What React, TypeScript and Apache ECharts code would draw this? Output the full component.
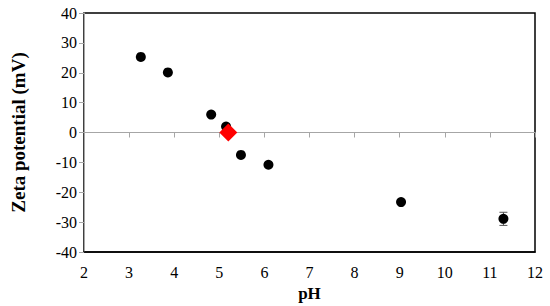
import React, { useEffect, useRef } from "react";
import * as echarts from "echarts";

const phValues = [3.26, 3.86, 4.82, 5.15, 5.48, 6.09, 9.03, 11.3];
const zetaValues = [25.3, 20.1, 6.0, 2.0, -7.5, -10.8, -23.3, -28.9];
const zetaErrors = [0, 0, 0, 0, 0, 0, 0, 2.2];
const iepPoint = [[5.2, 0]];

export default function App() {
  const ref = useRef<HTMLDivElement>(null);
  useEffect(() => {
    if (!ref.current) return;
    const chart = echarts.init(ref.current, null, { renderer: "svg" });
    const font = "Liberation Serif";
    const points = phValues.map((x, i) => [x, zetaValues[i]]);
    const errData = phValues.map((x, i) => [x, zetaValues[i] - zetaErrors[i], zetaValues[i] + zetaErrors[i]]);
    chart.setOption({
      animation: false,
      backgroundColor: "#fff",
      textStyle: { fontFamily: font },
      grid: {
        left: 84,
        right: 15,
        top: 13,
        bottom: 54,
        show: true,
        borderColor: "#000",
        borderWidth: 1.5,
        containLabel: false,
        outerBoundsMode: "none",
      },
      xAxis: [
        {
          type: "value",
          min: 2,
          max: 12,
          interval: 1,
          position: "bottom",
          name: "pH",
          nameLocation: "middle",
          nameGap: 33,
          nameTextStyle: { fontFamily: font, fontSize: 17, fontWeight: "bold", color: "#000" },
          axisLine: { show: true, onZero: false, lineStyle: { color: "#000", width: 1.5 } },
          axisTick: { show: false },
          axisLabel: { show: true, fontFamily: font, fontSize: 16, color: "#000", margin: 12 },
          splitLine: { show: false },
        },
        {
          type: "value",
          min: 2,
          max: 12,
          interval: 1,
          position: "top",
          axisLine: { show: true, onZero: true, lineStyle: { color: "#a6a6a6", width: 1 } },
          axisTick: { show: true, inside: true, length: 5, lineStyle: { color: "#a6a6a6" } },
          axisLabel: { show: false },
          splitLine: { show: false },
        },
      ],
      yAxis: {
        type: "value",
        min: -40,
        max: 40,
        interval: 10,
        name: "Zeta potential (mV)",
        nameLocation: "middle",
        nameGap: 56,
        nameTextStyle: { fontFamily: font, fontSize: 19, fontWeight: "bold", color: "#000" },
        axisLine: { show: true, lineStyle: { color: "#a6a6a6", width: 1 } },
        axisTick: { show: true, length: 5, lineStyle: { color: "#a6a6a6" } },
        axisLabel: { show: true, fontFamily: font, fontSize: 16, color: "#000", margin: 7 },
        splitLine: { show: false },
      },
      series: [
        {
          type: "custom",
          xAxisIndex: 0,
          renderItem: (params: any, api: any) => {
            const x = api.value(0);
            const lo = api.coord([x, api.value(1)]);
            const hi = api.coord([x, api.value(2)]);
            if (Math.abs(lo[1] - hi[1]) < 0.5) return { type: "group", children: [] };
            const c = 4;
            const style = { stroke: "#555", lineWidth: 1 };
            return {
              type: "group",
              children: [
                { type: "line", shape: { x1: lo[0], y1: lo[1], x2: hi[0], y2: hi[1] }, style },
                { type: "line", shape: { x1: lo[0] - c, y1: lo[1], x2: lo[0] + c, y2: lo[1] }, style },
                { type: "line", shape: { x1: hi[0] - c, y1: hi[1], x2: hi[0] + c, y2: hi[1] }, style },
              ],
            };
          },
          data: errData,
          z: 1,
        },
        {
          type: "scatter",
          xAxisIndex: 0,
          data: points,
          symbol: "circle",
          symbolSize: 10,
          itemStyle: { color: "#000", opacity: 1 },
          z: 2,
        },
        {
          type: "scatter",
          xAxisIndex: 0,
          data: iepPoint,
          symbol: "diamond",
          symbolSize: 18,
          itemStyle: { color: "#ff0000", opacity: 1 },
          z: 3,
        },
      ],
    });
    return () => chart.dispose();
  }, []);
  return <div ref={ref} style={{ width: 550, height: 306, position: "absolute", left: 0, top: 0 }} />;
}
